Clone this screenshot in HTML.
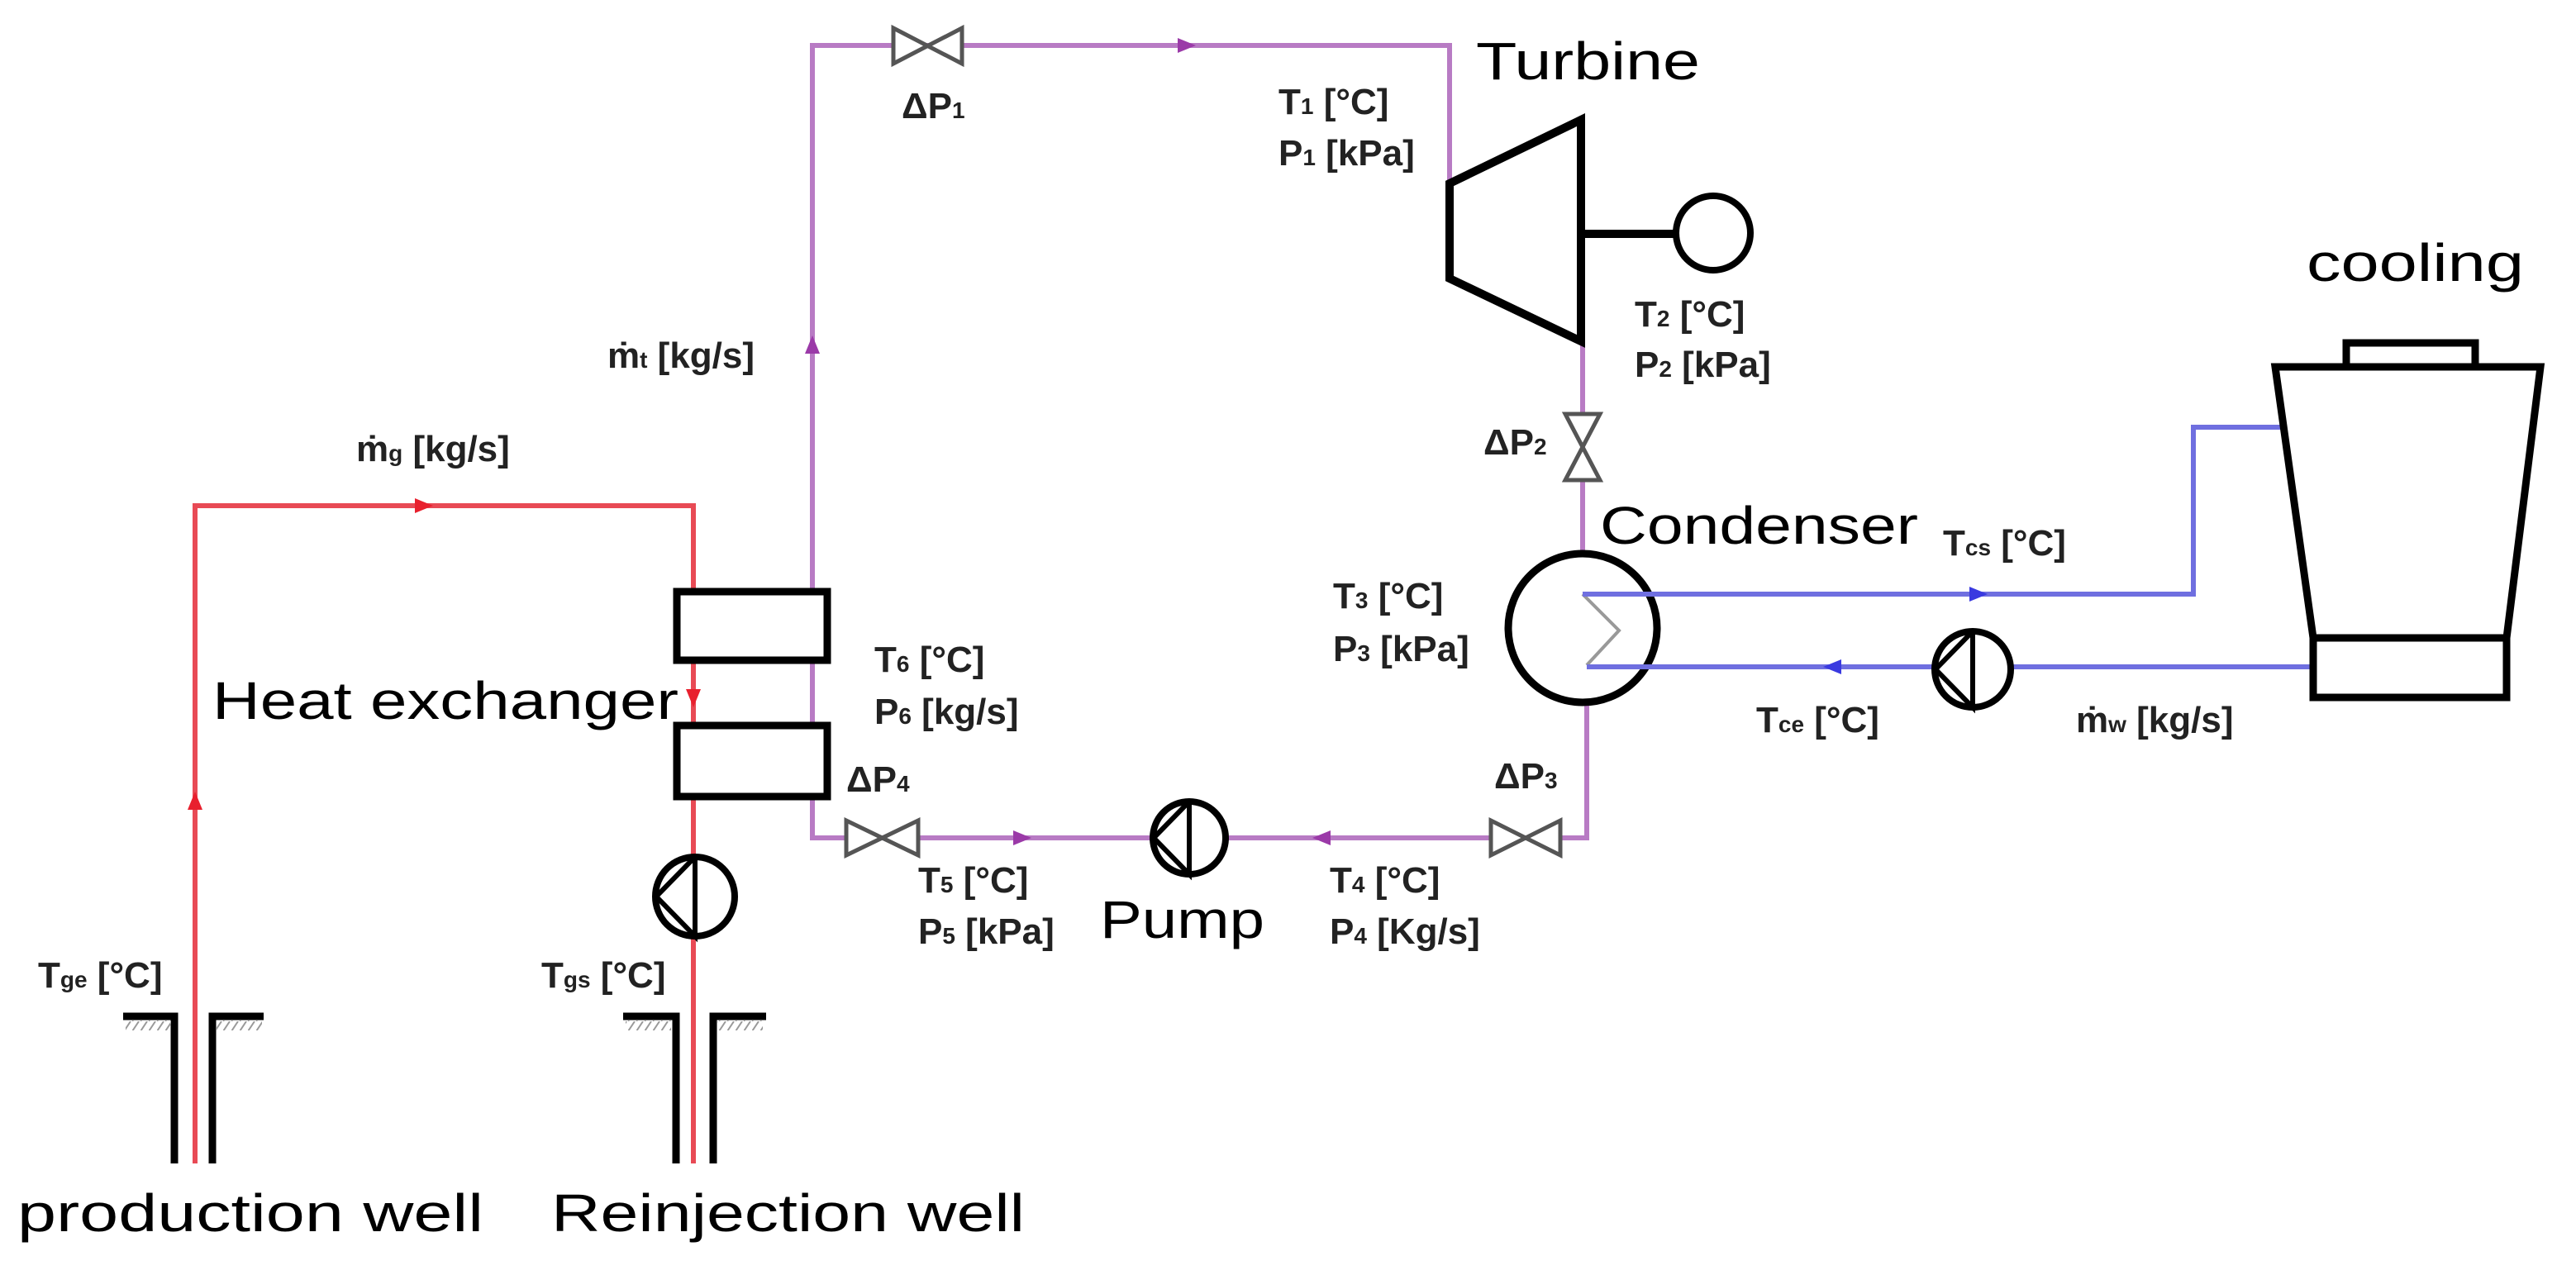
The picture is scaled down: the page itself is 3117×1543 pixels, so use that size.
<!DOCTYPE html>
<html><head><meta charset="utf-8"><style>
html,body{margin:0;padding:0;background:#fff;}
svg{display:block;}
.l{font-family:"Liberation Sans Narrow","Liberation Sans",sans-serif;font-weight:bold;font-size:44px;fill:#222;}
.b{font-family:"Liberation Sans",sans-serif;font-size:64px;fill:#000;}
</style></head><body>
<svg width="3117" height="1543" viewBox="0 0 3117 1543" xmlns="http://www.w3.org/2000/svg">
<defs>
<pattern id="h" width="10" height="12" patternUnits="userSpaceOnUse"><line x1="0" y1="12" x2="8" y2="0" stroke="#999" stroke-width="2"/></pattern>
</defs>
<!-- red loop -->
<g stroke="#e84a55" stroke-width="6" fill="none">
<polyline points="236,1408 236,612 839,612 839,714"/>
<line x1="839" y1="799" x2="839" y2="876"/>
<line x1="839" y1="966" x2="839" y2="1408"/>
</g>
<g fill="#e8202e">
<polygon points="502,603 524,612 502,621"/>
<polygon points="227,980 236,958 245,980"/>
<polygon points="830,834 839,856 848,834"/>
</g>
<!-- purple loop -->
<g stroke="#b87bc4" stroke-width="6" fill="none">
<polyline points="1754,222 1754,55 983,55 983,1014 1920,1014 1920,846"/>
<line x1="1915" y1="413" x2="1915" y2="674"/>
</g>
<g fill="#9b3aa8">
<polygon points="1425,46 1447,55 1425,64"/>
<polygon points="974,428 983,406 992,428"/>
<polygon points="1226,1005 1248,1014 1226,1023"/>
<polygon points="1610,1005 1588,1014 1610,1023"/>
</g>
<!-- blue loop -->
<g stroke="#6f6fe0" stroke-width="6" fill="none">
<polyline points="1915,719 2654,719 2654,517 2759,517"/>
<line x1="1920" y1="807" x2="2799" y2="807"/>
</g>
<g fill="#3a3ae0">
<polygon points="2383,710 2405,719 2383,728"/>
<polygon points="2228,798 2206,807 2228,816"/>
</g>
<!-- heat exchanger boxes -->
<g stroke="#000" stroke-width="9" fill="#fff">
<rect x="819" y="716" width="182" height="83"/>
<rect x="819" y="878" width="182" height="86"/>
</g>
<!-- valves -->
<g stroke="#555" stroke-width="5" fill="#fff">
<polygon points="1081,34 1164,77 1164,34 1081,77"/>
<polygon points="1024,993 1111,1035 1111,993 1024,1035"/>
<polygon points="1804,993 1888,1035 1888,993 1804,1035"/>
<polygon points="1894,501 1936,581 1894,581 1936,501"/>
</g>
<!-- turbine -->
<polygon points="1754,222 1913,145 1913,413 1754,337" fill="#fff" stroke="#000" stroke-width="10"/>
<line x1="1913" y1="283" x2="2028" y2="283" stroke="#000" stroke-width="10"/>
<circle cx="2073" cy="282" r="45" fill="#fff" stroke="#000" stroke-width="8"/>
<!-- condenser -->
<circle cx="1915" cy="760" r="90" fill="none" stroke="#000" stroke-width="9"/>
<polyline points="1915,719 1959,763 1920,805" fill="none" stroke="#999" stroke-width="4"/>
<line x1="1915" y1="719" x2="2010" y2="719" stroke="#6f6fe0" stroke-width="6"/>
<line x1="1920" y1="807" x2="2010" y2="807" stroke="#6f6fe0" stroke-width="6"/>
<!-- pumps -->
<g stroke="#000" stroke-width="8" fill="#fff">
<circle cx="1439" cy="1014" r="44"/>
<circle cx="841" cy="1085" r="48"/>
<circle cx="2387" cy="810" r="46"/>
</g>
<g stroke="#000" stroke-width="6" fill="none">
<polyline points="1439,970 1396,1014 1439,1058 1439,970"/>
<polyline points="841,1037 794,1085 841,1133 841,1037"/>
<polyline points="2387,764 2342,810 2387,856 2387,764"/>
</g>
<!-- cooling tower -->
<g stroke="#000" stroke-width="9" fill="#fff">
<rect x="2839" y="415" width="156" height="29"/>
<polygon points="2753,444 3074,444 3033,772 2799,772"/>
<rect x="2799" y="772" width="234" height="72"/>
</g>
<!-- wells -->
<g stroke="#000" stroke-width="9" fill="none">
<polyline points="149,1230 211,1230 211,1408"/>
<polyline points="319,1230 257,1230 257,1408"/>
<polyline points="754,1230 818,1230 818,1408"/>
<polyline points="927,1230 863,1230 863,1408"/>
</g>
<rect x="152" y="1235" width="55" height="12" fill="url(#h)"/>
<rect x="262" y="1235" width="55" height="12" fill="url(#h)"/>
<rect x="757" y="1235" width="55" height="12" fill="url(#h)"/>
<rect x="868" y="1235" width="55" height="12" fill="url(#h)"/>
<!-- small labels -->
<g class="l">
<text x="1091" y="143">ΔP<tspan font-size="28">1</tspan></text>
<text x="1547" y="138">T<tspan font-size="28">1</tspan> [°C]</text>
<text x="1547" y="200">P<tspan font-size="28">1</tspan> [kPa]</text>
<text x="1978" y="395">T<tspan font-size="28">2</tspan> [°C]</text>
<text x="1978" y="456">P<tspan font-size="28">2</tspan> [kPa]</text>
<text x="1795" y="550">ΔP<tspan font-size="28">2</tspan></text>
<text x="1613" y="736">T<tspan font-size="28">3</tspan> [°C]</text>
<text x="1613" y="800">P<tspan font-size="28">3</tspan> [kPa]</text>
<text x="1058" y="813">T<tspan font-size="28">6</tspan> [°C]</text>
<text x="1058" y="876">P<tspan font-size="28">6</tspan> [kg/s]</text>
<text x="1024" y="958">ΔP<tspan font-size="28">4</tspan></text>
<text x="1808" y="954">ΔP<tspan font-size="28">3</tspan></text>
<text x="1111" y="1080">T<tspan font-size="28">5</tspan> [°C]</text>
<text x="1111" y="1142">P<tspan font-size="28">5</tspan> [kPa]</text>
<text x="1609" y="1080">T<tspan font-size="28">4</tspan> [°C]</text>
<text x="1609" y="1142">P<tspan font-size="28">4</tspan> [Kg/s]</text>
<text x="735" y="445">ṁ<tspan font-size="28">t</tspan> [kg/s]</text>
<text x="431" y="558">ṁ<tspan font-size="28">g</tspan> [kg/s]</text>
<text x="46" y="1195">T<tspan font-size="28">ge</tspan> [°C]</text>
<text x="655" y="1195">T<tspan font-size="28">gs</tspan> [°C]</text>
<text x="2351" y="672">T<tspan font-size="28">cs</tspan> [°C]</text>
<text x="2125" y="886">T<tspan font-size="28">ce</tspan> [°C]</text>
<text x="2512" y="886">ṁ<tspan font-size="28">w</tspan> [kg/s]</text>
</g>
<!-- big labels -->
<g class="b">
<text x="1786" y="96" textLength="271" lengthAdjust="spacingAndGlyphs">Turbine</text>
<text x="1936" y="658" textLength="385" lengthAdjust="spacingAndGlyphs">Condenser</text>
<text x="257" y="870" textLength="564" lengthAdjust="spacingAndGlyphs">Heat exchanger</text>
<text x="1331" y="1135" textLength="199" lengthAdjust="spacingAndGlyphs">Pump</text>
<text x="2791" y="340" textLength="263" lengthAdjust="spacingAndGlyphs">cooling</text>
<text x="21" y="1490" textLength="564" lengthAdjust="spacingAndGlyphs">production well</text>
<text x="667" y="1490" textLength="573" lengthAdjust="spacingAndGlyphs">Reinjection well</text>
</g>
</svg>
</body></html>
